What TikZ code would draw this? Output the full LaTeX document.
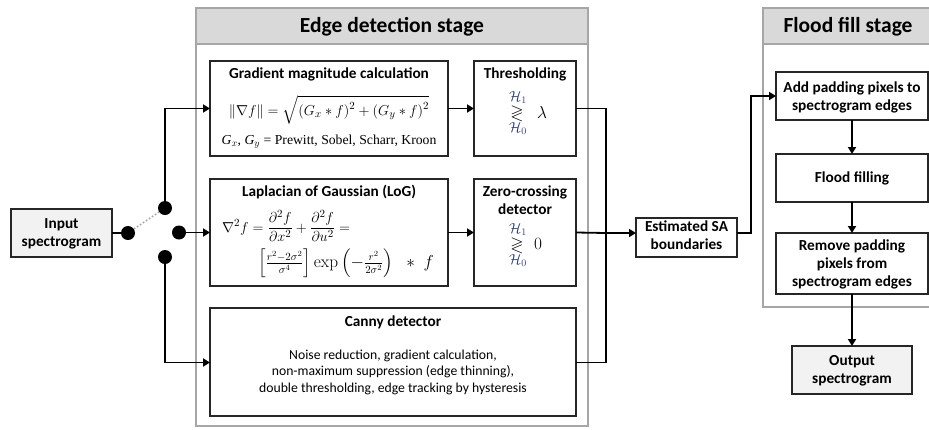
\documentclass[tikz,border=0pt]{standalone}
\usepackage{amsmath,amssymb}
\usepackage[no-math]{fontspec}
\setmainfont{Carlito}
\newfontfamily\tnr{Liberation Serif}
\usetikzlibrary{arrows.meta}
\definecolor{stagegray}{HTML}{A6A6A6}
\definecolor{titlegray}{HTML}{D9D9D9}
\definecolor{inputgray}{HTML}{F2F2F2}
\definecolor{hblue}{HTML}{2F3F6F}
\tikzset{
  px/.style={x=1pt,y=-1pt},
  stagebox/.style={draw=stagegray,line width=2.6pt},
  stagetitle/.style={draw=stagegray,line width=2.6pt,fill=titlegray},
  blk/.style={draw=black!85,line width=1.1pt,fill=white},
  ttl/.style={font=\fontsize{21.5}{25}\selectfont\bfseries},
  hd/.style={font=\fontsize{15.3}{18}\selectfont\bfseries,align=center,inner sep=0pt},
  bd/.style={font=\fontsize{13.7}{16.5}\selectfont,align=center,inner sep=0pt},
  hyp/.style={inner sep=0pt,text=hblue,font=\fontsize{14.5}{16}\selectfont},
  rel/.style={inner sep=0pt,font=\fontsize{17}{19}\selectfont},
  rhs/.style={inner sep=0pt,font=\fontsize{16}{18}\selectfont},
  conn/.style={line width=1.8pt},
  arr/.style={line width=1.8pt,-{Triangle[length=7pt,width=8pt]}},
  dot/.style={circle,fill=black,inner sep=0pt,minimum size=14pt},
}
\begin{document}
\begin{tikzpicture}[px]
\useasboundingbox (0,0) rectangle (929,429);
\clip (0,0) rectangle (929,429);
% stages
\draw[stagebox] (196,8) rectangle (588,426);
\draw[stagetitle] (196,8) rectangle (588,44);
\node[ttl] (t1) at (392,26.5) {Edge detection stage};
\draw[stagebox] (763,8) rectangle (945,307);
\draw[stagetitle] (763,8) rectangle (945,44);
\node[ttl] (t2) at (848,26.5) {Flood fill stage};
% boxes
\path[blk,fill=inputgray] (11,209) rectangle (112,257);
\node[hd] (input) at (61.5,234) {Input\\spectrogram};
\coordinate (inE) at (112,233);

\path[blk] (210,61) rectangle (448,156);
\coordinate (gradW) at (210,108.5); \coordinate (gradE) at (448,108.5);
\node[hd] (gradT) at (329,74) {Gradient magnitude calculation};
\node[inner sep=0pt] (gradF) at (329,110) {\fontsize{15.8}{19}\selectfont $\|\nabla f\| = \sqrt{\left(G_x * f\right)^2 + \left(G_y * f\right)^2}$};
\node[inner sep=0pt] (gradG) at (329,142) {\fontsize{13.7}{16}\selectfont\tnr \textit{G}$_x$, \textit{G}$_y$ = Prewitt, Sobel, Scharr, Kroon};

\path[blk] (474,61) rectangle (576,156);
\coordinate (thrW) at (474,108.5); \coordinate (thrE) at (576,108.5);
\node[hd] (thrT) at (525,74) {Thresholding};
\node[rel] (thrS) at (517,113) {$\gtrless$};
\node[hyp] (thrH1) at (518,97.5) {$\mathcal{H}_1$};
\node[hyp] (thrH0) at (518,128.5) {$\mathcal{H}_0$};
\node[rhs] (thrL) at (542,112) {$\lambda$};

\path[blk] (210,179) rectangle (448,286);
\coordinate (logW) at (210,232.5); \coordinate (logE) at (448,232.5);
\node[hd] (logT) at (329,192) {Laplacian of Gaussian (LoG)};
\node[anchor=west,inner sep=0pt] (logF1) at (222,226) {\fontsize{15.3}{18}\selectfont $\nabla^2 f = \dfrac{\partial^2 f}{\partial x^2} + \dfrac{\partial^2 f}{\partial u^2} =$};
\node[anchor=east,inner sep=0pt] (logF2) at (434,263) {\fontsize{16}{19}\selectfont $\left[\frac{r^2 - 2\sigma^2}{\sigma^4}\right] \exp\left(-\frac{r^2}{2\sigma^2}\right) \;\; * \; f$};

\path[blk] (474,179) rectangle (576,286);
\coordinate (zcW) at (474,232.5); \coordinate (zcE) at (576,232.5);
\node[hd] (zcT) at (525,200.5) {Zero-crossing\\detector};
\node[rel] (zcS) at (517,245) {$\gtrless$};
\node[hyp] (zcH1) at (518,229.5) {$\mathcal{H}_1$};
\node[hyp] (zcH0) at (518,260.5) {$\mathcal{H}_0$};
\node[rhs] (zcL) at (538,244) {$0$};

\path[blk] (210,308) rectangle (576,416);
\coordinate (canW) at (210,362.5); \coordinate (canE) at (576,362.5);
\node[hd] (canT) at (393,322) {Canny detector};
\node[bd] (canB) at (393,372) {Noise reduction, gradient calculation,\\non-maximum suppression (edge thinning),\\double thresholding, edge tracking by hysteresis};

\path[blk] (636,218) rectangle (737,257);
\node[hd] (est) at (686.5,235) {Estimated SA\\boundaries};
\coordinate (estW) at (636,233); \coordinate (estE) at (737,233);

\path[blk] (776,72) rectangle (928,120);
\node[hd] (add) at (852,97) {Add padding pixels to\\spectrogram edges};
\coordinate (addW) at (776,96); \coordinate (addS) at (852,120);
\path[blk] (776,154) rectangle (928,202);
\node[hd] (flood) at (852,178) {Flood filling};
\coordinate (floodN) at (852,154); \coordinate (floodS) at (852,202);
\path[blk] (776,233) rectangle (928,294);
\node[hd] (rem) at (852,264.5) {Remove padding\\pixels from\\spectrogram edges};
\coordinate (remN) at (852,233); \coordinate (remS) at (852,294);
\path[blk,fill=inputgray] (792,346) rectangle (912,394);
\node[hd] (out) at (852,371) {Output\\spectrogram};
\coordinate (outN) at (852,346);

% switch
\node[dot] (d1) at (128,233) {};
\node[dot] (d2) at (165,208) {};
\node[dot] (d3) at (179,232.5) {};
\node[dot] (d4) at (165,257) {};
\draw[conn] (inE) -- (d1);
\draw[stagegray,line width=1.6pt,dotted] (d1) -- (d2);
\draw[arr] (d2) |- (gradW);
\draw[arr] (d3) -- (logW);
\draw[arr] (d4) |- (canW);
% edge connectors
\draw[arr] (gradE) -- (thrW);
\draw[arr] (logE) -- (zcW);
\coordinate (m) at (606,233);
\draw[conn] (thrE) -| (m);
\draw[conn] (canE) -| (m);
\draw[conn] (zcE) -- (m);
\draw[arr] (m) -- (estW);
\coordinate (k) at (751,96);
\draw[arr] (estE) -| (k) -- (addW);
\draw[arr] (addS) -- (floodN);
\draw[arr] (floodS) -- (remN);
\draw[arr] (remS) -- (outN);
\end{tikzpicture}
\end{document}
